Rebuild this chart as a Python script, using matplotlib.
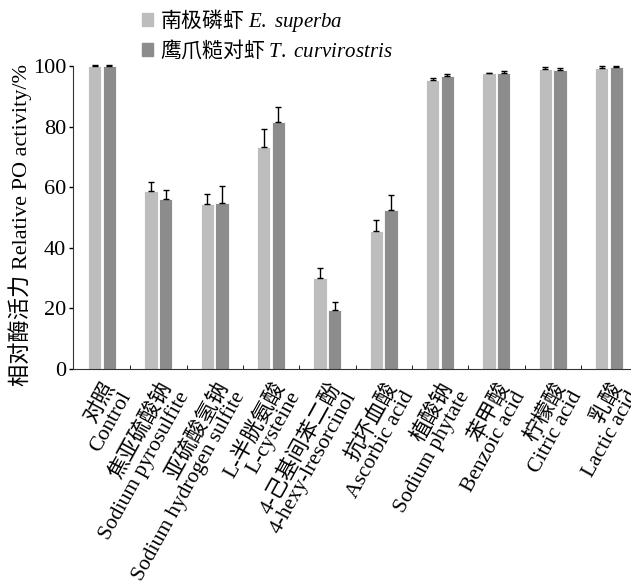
import matplotlib
matplotlib.use("Agg")
import matplotlib.pyplot as plt
import numpy as np
from matplotlib.patches import Patch

plt.rcParams['font.family'] = ['Liberation Serif', 'Noto Sans CJK SC']
plt.rcParams['mathtext.fontset'] = 'custom'
plt.rcParams['mathtext.it'] = 'Liberation Serif:italic'
plt.rcParams['mathtext.rm'] = 'Liberation Serif'

categories = [
    "对照\nControl",
    "焦亚硫酸钠\nSodium pyrosulfite",
    "亚硫酸氢钠\nSodium hydrogen sulfite",
    "L-半胱氨酸\nL-cysteine",
    "4-己基间苯二酚\n4-hexy-lresorcinol",
    "抗坏血酸\nAscorbic acid",
    "植酸钠\nSodium phytate",
    "苯甲酸\nBenzoic acid",
    "柠檬酸\nCitric acid",
    "乳酸\nLactic acid",
]

superba = [100, 58.6, 54.6, 73.3, 29.9, 45.5, 95.3, 97.5, 98.9, 99.3]
superba_err = [0.2, 3.0, 3.1, 6.0, 3.4, 3.7, 0.6, 0.3, 0.6, 0.6]
curvi = [100, 56.0, 54.9, 81.6, 19.5, 52.5, 96.6, 97.7, 98.6, 99.7]
curvi_err = [0.2, 3.0, 5.6, 4.9, 2.6, 4.8, 0.6, 0.5, 0.7, 0.3]

light = "#bdbdbd"
dark = "#8c8c8c"

fig = plt.figure(figsize=(6.31, 5.83), dpi=100)
ax = fig.add_axes([0.1157, 0.367, 0.8843, 0.52])

x = np.arange(len(categories))
w = 0.24
err_style = dict(ecolor="black", elinewidth=1.0, capthick=1.0, clip_on=False)
ax.bar(x - 0.13, superba, w, color=light, edgecolor="white", linewidth=0.6,
       yerr=[np.zeros(len(x)), superba_err], capsize=2.5, error_kw=err_style)
ax.bar(x + 0.13, curvi, w, color=dark, edgecolor="white", linewidth=0.6,
       yerr=[np.zeros(len(x)), curvi_err], capsize=2.5, error_kw=err_style)

ax.set_xlim(-0.515, 9.39)
ax.set_ylim(0, 100)
ax.set_yticks([0, 20, 40, 60, 80, 100])
ax.tick_params(axis="y", direction="out", length=3, labelsize=16, width=1, pad=2)
ax.set_xticks(x)
ax.set_xticklabels(categories, rotation=61, ha="right", va="top",
                   rotation_mode="anchor", multialignment="right", fontsize=15.5,
                   linespacing=0.95)
ax.tick_params(axis="x", length=0, pad=7)
ax.set_xticks(x[:-1] + 0.5, minor=True)
ax.tick_params(axis="x", which="minor", direction="in", length=3)

for s in ["top", "right"]:
    ax.spines[s].set_visible(False)
ax.spines["left"].set_color("#333333")
ax.spines["bottom"].set_color("#333333")

ax.set_ylabel("相对酶活力 Relative PO activity/%", fontsize=16)
ax.yaxis.set_label_coords(-0.073, 0.475)

handles = [Patch(color=light), Patch(color=dark)]
labels = [r"南极磷虾 $\mathit{E.\ superba}$", r"鹰爪糙对虾 $\mathit{T.\ curvirostris}$"]
fig.legend(handles, labels, loc="upper left", bbox_to_anchor=(0.195, 1.02),
           frameon=False, handlelength=0.55, handleheight=0.55, handletextpad=0.3,
           labelspacing=0.18, prop={"family": "Noto Sans CJK SC", "size": 15})

fig.savefig("out.png", dpi=100)
